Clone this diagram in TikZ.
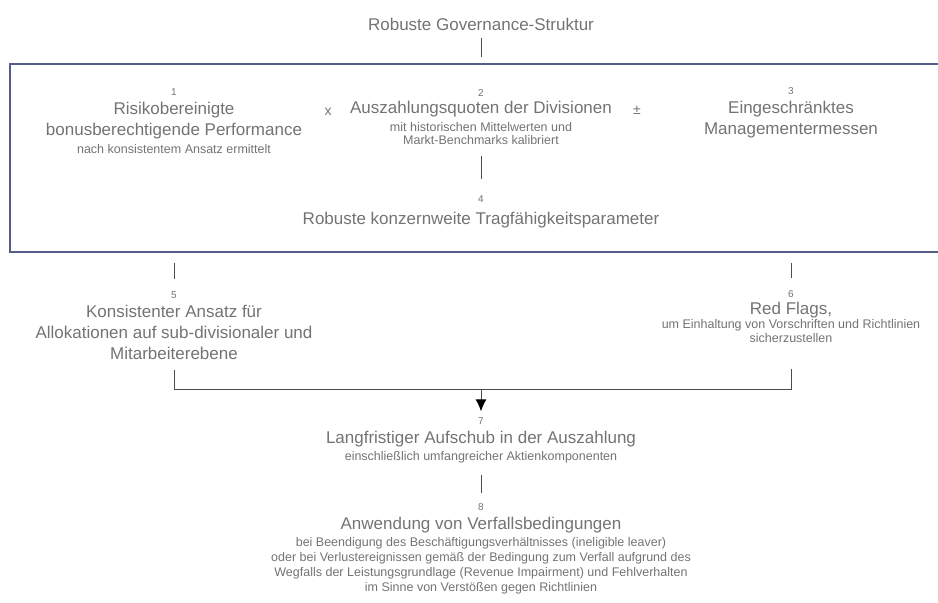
\documentclass[tikz,border=0pt]{standalone}
\usepackage{fontspec}
\setmainfont{Liberation Sans}
\usetikzlibrary{arrows.meta}
\definecolor{rahmen}{RGB}{84,94,136}
\begin{document}
\begin{tikzpicture}[x=1pt,y=1pt]
	\tikzstyle{texte}=[text=black!55,inner sep=0pt,align=center]
	\tikzstyle{nummer}=[texte,font=\fontsize{10}{11}\selectfont]
	\tikzstyle{titel}=[texte,font=\fontsize{17}{21}\selectfont]
	\tikzstyle{zusatz}=[texte,font=\fontsize{12.5}{14}\selectfont]
	\tikzstyle{zeichen}=[texte,font=\fontsize{14}{16}\selectfont]
	\tikzstyle{trait}=[black!70,line width=1pt]
	\tikzstyle{fleche}=[trait,-{Latex[length=12pt,width=11pt,black]}]
	
	\def\ColA{174}
	\def\ColB{481}
	\def\ColC{791}
	
	\useasboundingbox (0,0) rectangle (938,-603);
	
	\node[titel] (gov) at (\ColB,-24) {Robuste Governance-Struktur};
	\node[draw=rahmen,line width=2pt,minimum width=938pt,minimum height=188pt,inner sep=0pt] (rahmen) at (479,-158) {};
	
	\node[nummer] (n1) at (\ColA,-92) {1};
	\node[titel] (t1) at (\ColA,-121) {Risikobereinigte\\bonusberechtigende Performance};
	\node[zusatz] (z1) at (\ColA,-149) {nach konsistentem Ansatz ermittelt};
	\node[zeichen] (mal) at (328,-112) {x};
	\node[nummer] (n2) at (\ColB,-93) {2};
	\node[titel] (t2) at (\ColB,-109) {Auszahlungsquoten der Divisionen};
	\node[zusatz,font=\fontsize{12.5}{13}\selectfont] (z2) at (\ColB,-134) {mit historischen Mittelwerten und\\Markt-Benchmarks kalibriert};
	\node[zeichen] (pm) at (637,-110) {±};
	\node[nummer] (n3) at (\ColC,-91) {3};
	\node[titel] (t3) at (\ColC,-120) {Eingeschränktes\\Managementermessen};
	\node[nummer] (n4) at (\ColB,-199) {4};
	\node[titel] (t4) at (\ColB,-220) {Robuste konzernweite Tragfähigkeitsparameter};
	
	\node[nummer] (n5) at (\ColA,-295) {5};
	\node[titel] (t5) at (\ColA,-332) {Konsistenter Ansatz für\\Allokationen auf sub-divisionaler und\\Mitarbeiterebene};
	\node[nummer] (n6) at (\ColC,-294) {6};
	\node[titel] (t6) at (\ColC,-310) {Red Flags,};
	\node[zusatz] (z6) at (\ColC,-331) {um Einhaltung von Vorschriften und Richtlinien\\sicherzustellen};
	\coordinate (knoten) at (\ColB,-389);
	
	\node[nummer] (n7) at (\ColB,-421) {7};
	\node[titel] (t7) at (\ColB,-439) {Langfristiger Aufschub in der Auszahlung};
	\node[zusatz] (z7) at (\ColB,-457) {einschließlich umfangreicher Aktienkomponenten};
	\node[nummer] (n8) at (\ColB,-507) {8};
	\node[titel] (t8) at (\ColB,-525) {Anwendung von Verfallsbedingungen};
	\node[zusatz,font=\fontsize{12.5}{15}\selectfont] (z8) at (\ColB,-566) {bei Beendigung des Beschäftigungsverhältnisses (ineligible leaver)\\oder bei Verlustereignissen gemäß der Bedingung zum Verfall aufgrund des\\Wegfalls der Leistungsgrundlage (Revenue Impairment) und Fehlverhalten\\im Sinne von Verstößen gegen Richtlinien};
	
	\draw[trait,shorten <=8pt,shorten >=6pt] (gov.south) -- (gov.south |- rahmen.north);
	\draw[trait,shorten <=11pt,shorten >=16pt] (z2.south) -- (n4.north);
	\draw[trait,shorten <=10pt,shorten >=12pt] (n5.north |- rahmen.south) -- (n5.north);
	\draw[trait,shorten <=10pt,shorten >=12pt] (n6.north |- rahmen.south) -- (n6.north);
	\draw[trait,shorten <=11pt] (t5.south) |- (knoten);
	\draw[trait,shorten <=26pt] (z6.south) |- (knoten);
	\draw[fleche,shorten >=6pt] (knoten) -- (n7.north);
	\draw[trait,shorten <=12pt,shorten >=10pt] (z7.south) -- (n8.north);
\end{tikzpicture}
\end{document}
